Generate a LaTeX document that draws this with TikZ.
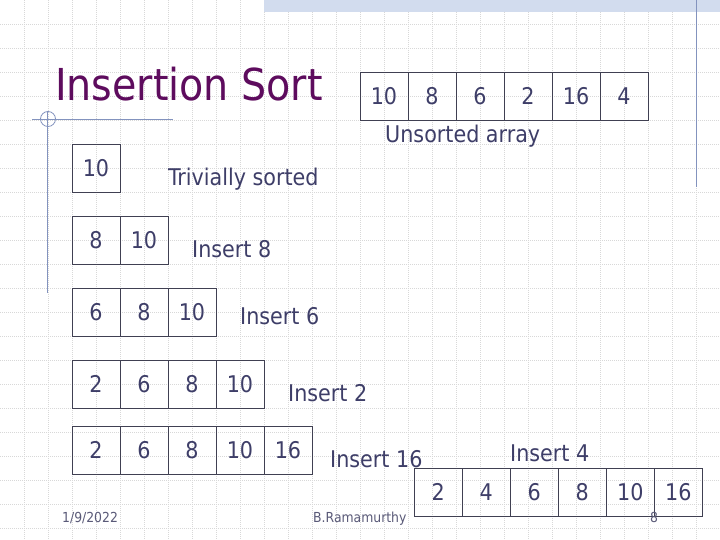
\documentclass[tikz,border=0pt]{standalone}
\usepackage{fontspec}
\setmainfont{DejaVu Sans Condensed}
\definecolor{txt}{HTML}{3E3E68}
\definecolor{ttl}{HTML}{5E0C5E}
\definecolor{boxc}{HTML}{404052}
\definecolor{deco}{HTML}{8393BE}
\definecolor{band}{HTML}{D2DCEE}
\definecolor{gridc}{HTML}{D8D8D8}
\definecolor{foot}{HTML}{5A5A78}
\tikzset{
  cell/.style={draw=boxc, line width=0.8pt, minimum width=48pt, minimum height=48pt, inner sep=0pt, text=txt, font=\fontsize{23}{26}\selectfont},
  lbl/.style={anchor=base west, inner sep=0pt, text=txt, font=\fontsize{23}{26}\selectfont},
  footer/.style={anchor=base west, inner sep=0pt, text=foot, font=\fontsize{13.8}{16}\selectfont},
  decoline/.style={draw=deco, line width=0.8pt},
}
\begin{document}
\begin{tikzpicture}[x=1pt,y=-1pt]
\useasboundingbox (0,0) rectangle (720,540);
\fill[white] (0,0) rectangle (720,540);
% grid
\foreach \i in {1,...,29} {\draw[gridc, line width=0.6pt, dash pattern=on 1pt off 1pt] (\i*24,0) -- (\i*24,540);}
\foreach \j in {1,...,22} {\draw[gridc, line width=0.6pt, dash pattern=on 1pt off 1pt] (0,\j*24) -- (720,\j*24);}
% top band
\fill[band] (264,0) rectangle (720,12);
% decorations
\draw[decoline] (696,0) -- (696,187);
\draw[decoline] (32,119) -- (173,119);
\draw[decoline] (47.5,111) -- (47.5,293);
\draw[decoline] (48,119) circle (7.5);
% title
\node[anchor=base west, inner sep=0pt, text=ttl, font=\fontsize{44}{50}\selectfont] (title) at (55,101) {Insertion Sort};
% unsorted array
\foreach \v [count=\k] in {10,8,6,2,16,4} {\node[cell] (u\k) at (360+\k*48-24,96.3) {\v};}
\node[lbl] (ulbl) at (385,143) {Unsorted array};
% row 1
\node[cell] (a1) at (96,168.3) {10};
\node[lbl] (albl) at (168,186) {Trivially sorted};
% row 2
\foreach \v [count=\k] in {8,10} {\node[cell] (b\k) at (72+\k*48-24,240.3) {\v};}
\node[lbl] (blbl) at (192,258) {Insert 8};
% row 3
\foreach \v [count=\k] in {6,8,10} {\node[cell] (c\k) at (72+\k*48-24,312.3) {\v};}
\node[lbl] (clbl) at (240,324) {Insert 6};
% row 4
\foreach \v [count=\k] in {2,6,8,10} {\node[cell] (d\k) at (72+\k*48-24,384.3) {\v};}
\node[lbl] (dlbl) at (288,401.5) {Insert 2};
% row 5
\foreach \v [count=\k] in {2,6,8,10,16} {\node[cell] (e\k) at (72+\k*48-24,450.3) {\v};}
\node[lbl] (elbl) at (330,467) {Insert 16};
% final
\foreach \v [count=\k] in {2,4,6,8,10,16} {\node[cell] (f\k) at (414.3+\k*48-24,492.3) {\v};}
\node[lbl] (flbl) at (510,461) {Insert 4};
% footer
\node[footer] (date) at (62,522.5) {1/9/2022};
\node[footer] (auth) at (313,522.5) {B.Ramamurthy};
\node[footer, anchor=base] (pnum) at (654,522.5) {8};
\end{tikzpicture}
\end{document}
